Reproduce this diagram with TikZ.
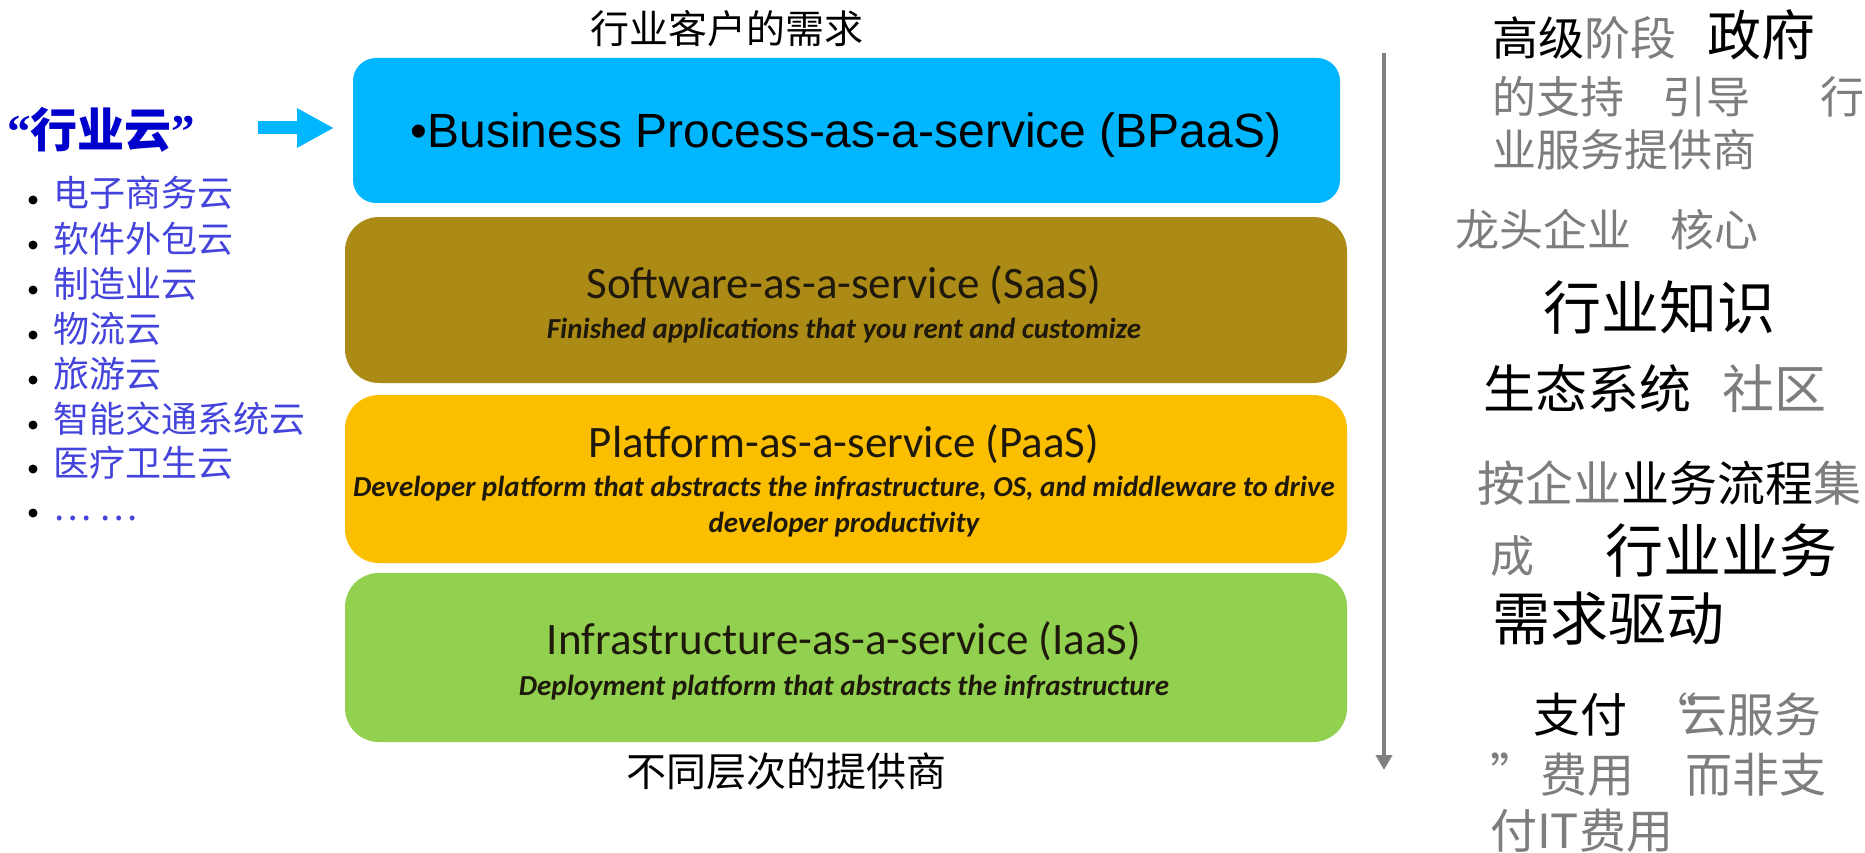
\documentclass[tikz,border=0pt]{standalone}
\usepackage{fontspec}
\usetikzlibrary{arrows.meta}
\newfontfamily\cjk{Noto Sans CJK SC}
\newfontfamily\calib{Carlito}
\newfontfamily\arialf{Liberation Sans}
\newfontfamily\lserif{Liberation Serif}
\newcommand\fsz[1]{\fontsize{#1pt}{#1pt}\selectfont}
\definecolor{bpaas}{RGB}{0,183,255}
\definecolor{saas}{RGB}{172,138,22}
\definecolor{paas}{RGB}{252,191,0}
\definecolor{iaas}{RGB}{146,208,80}
\definecolor{listblue}{RGB}{68,68,220}
\definecolor{yunblue}{RGB}{0,0,204}
\definecolor{tgray}{RGB}{125,125,125}
\definecolor{linegray}{RGB}{128,128,128}
\definecolor{boxtext}{RGB}{30,25,10}
\begin{document}
\begin{tikzpicture}[x=1pt,y=-1pt,
  layerbox/.style={rectangle, inner sep=0pt, outer sep=0pt, draw=none},
  ttl/.style={anchor=base, inner sep=0pt, font=\calib\fsz{45}, text=boxtext},
  sub/.style={anchor=base, inner sep=0pt, font=\calib\bfseries\itshape\fsz{29}, text=boxtext},
  rt/.style={anchor=base west, inner sep=0pt},
  litem/.style={anchor=base west, inner sep=0pt, font=\cjk\fsz{36}, text=listblue},
  bul/.style={circle, fill=black, inner sep=0pt, minimum size=9pt},
  captext/.style={anchor=base, inner sep=0pt, text=black}
]
\path[use as bounding box, fill=white] (0,0) rectangle (1865,853);

% central layers
\node[layerbox, fill=bpaas, rounded corners=23pt, minimum width=987pt, minimum height=145pt] (bp) at (846.5,130.5) {};
\node[layerbox, fill=saas, rounded corners=34pt, minimum width=1002pt, minimum height=166pt] (sa) at (846,300) {};
\node[layerbox, fill=paas, rounded corners=34pt, minimum width=1002pt, minimum height=168pt] (pa) at (846,479) {};
\node[layerbox, fill=iaas, rounded corners=34pt, minimum width=1002pt, minimum height=169pt] (ia) at (846,657.5) {};

\node[anchor=base, inner sep=0pt, font=\arialf\fsz{48}] (bpt) at (846,148) {•Business Process-as-a-service (BPaaS)};
\node[ttl] (sat) at (844,298) {Software-as-a-service (SaaS)};
\node[sub] (sas) at (844,338) {Finished applications that you rent and customize};
\node[ttl] (pat) at (844,457) {Platform-as-a-service (PaaS)};
\node[sub] (pas1) at (844,496) {Developer platform that abstracts the infrastructure, OS, and middleware to drive};
\node[sub] (pas2) at (844,532) {developer productivity};
\node[ttl] (iat) at (844,654) {Infrastructure-as-a-service (IaaS)};
\node[sub] (ias) at (844,695) {Deployment platform that abstracts the infrastructure};

\node[captext, font=\cjk\fsz{39}] (toptitle) at (727,44) {行业客户的需求};
\node[captext, font=\cjk\fsz{40}] (bottitle) at (786,786) {不同层次的提供商};

% left side
\node[rt, font=\cjk\bfseries\fsz{47}, text=yunblue] (yun) at (7,148) {{\lserif\bfseries “}行业云{\lserif\bfseries ”}};
\coordinate (la1) at (258,128);
\coordinate (la2) at (334,128);
\draw[line width=13pt, bpaas, -{Triangle[length=37pt,width=37pt]}] (la1) -- (la2);

\foreach \t/\y [count=\i] in {电子商务云/193, 软件外包云/238, 制造业云/283, 物流云/328, 旅游云/373, 智能交通系统云/418, 医疗卫生云/462}{
  \node[bul] (b\i) at (33,\y+7) {};
  \node[litem] (l\i) at (53,\y+14) {\t};
}
\node[bul] (b8) at (33,513) {};
\node[litem] (l8) at (53,520) {… …};

% right side arrow
\coordinate (vtop) at (1384,53);
\coordinate (vbot) at (1384,770);
\draw[line width=4pt, linegray, -{Triangle[length=15pt,width=16pt]}] (vtop) -- (vbot);

% right side texts
\node[rt, font=\cjk\fsz{46}] (r1a) at (1492,56) {高级\textcolor{tgray}{阶段}};
\node[rt, font=\cjk\fsz{54}] (r1b) at (1707,56) {政府};
\node[rt, font=\cjk\fsz{44}, text=tgray] (r2a) at (1492,114) {的支持};
\node[rt, font=\cjk\fsz{44}, text=tgray] (r2b) at (1662,114) {引导};
\node[rt, font=\cjk\fsz{44}, text=tgray] (r2c) at (1820,114) {行};
\node[rt, font=\cjk\fsz{44}, text=tgray] (r3) at (1492,167) {业服务提供商};
\node[rt, font=\cjk\fsz{44}, text=tgray] (r4a) at (1455,246) {龙头企业};
\node[rt, font=\cjk\fsz{44}, text=tgray] (r4b) at (1670,246) {核心};
\node[rt, font=\cjk\fsz{58}] (r5) at (1543,329) {行业知识};
\node[rt, font=\cjk\fsz{52}] (r6a) at (1483,408) {生态系统};
\node[rt, font=\cjk\fsz{52}, text=tgray] (r6b) at (1722,408) {社区};
\node[rt, font=\cjk\fsz{48}, text=tgray] (r7) at (1477,501) {按企业\textcolor{black}{业务流程}集};
\node[rt, font=\cjk\fsz{44}, text=tgray] (r8a) at (1490,572) {成};
\node[rt, font=\cjk\fsz{58}] (r8b) at (1605,572) {行业业务};
\node[rt, font=\cjk\fsz{58}] (r9) at (1492,640) {需求驱动};
\node[rt, font=\cjk\fsz{47}] (r10a) at (1533,732) {支付};
\node[rt, font=\cjk\fsz{47}, text=tgray] (r10b) at (1650,732) {“};
\node[rt, font=\cjk\fsz{47}, text=tgray] (r10c) at (1680,732) {云服务};
\node[rt, font=\cjk\fsz{47}, text=tgray] (r11a) at (1490,792) {”};
\node[rt, font=\cjk\fsz{47}, text=tgray] (r11b) at (1540,792) {费用};
\node[rt, font=\cjk\fsz{47}, text=tgray] (r11c) at (1685,792) {而非支};
\node[rt, font=\cjk\fsz{47}, text=tgray] (r12) at (1490,848) {付IT费用};
\end{tikzpicture}
\end{document}
